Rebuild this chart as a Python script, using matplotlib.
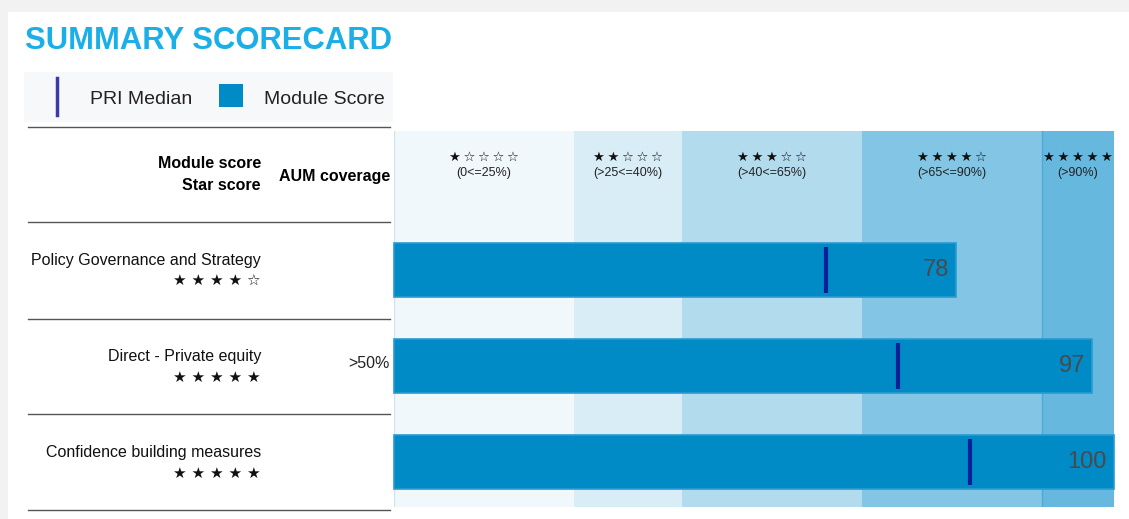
import matplotlib.pyplot as plt
from matplotlib.patches import Rectangle
from matplotlib.lines import Line2D
from matplotlib import transforms

plt.rcParams['font.family'] = ['Liberation Sans', 'DejaVu Sans']

# ---- data ----
modules = ["Policy Governance and Strategy", "Direct - Private equity", "Confidence building measures"]
module_scores = [78, 97, 100]
pri_medians = [60, 70, 80]
star_counts = [4, 5, 5]
aum_coverage = ["", ">50%", ""]

band_edges = [0, 25, 40, 65, 90, 100]
band_stars = [1, 2, 3, 4, 5]
band_labels = ["(0<=25%)", "(>25<=40%)", "(>40<=65%)", "(>65<=90%)", "(>90%)"]
band_colors = ["#f0f8fb", "#d9edf6", "#b3dbee", "#82c5e4", "#66b8de"]

BAR = "#008ac6"
MED = "#0d1f96"
TITLE = "#1aafe6"
W, H = 1129, 519


def stars(n, total=5, sep=" "):
    return sep.join(["\u2605"] * n + ["\u2606"] * (total - n))


fig = plt.figure(figsize=(W / 100, H / 100), dpi=100, facecolor="#f2f2f2")

# background / layout axes in pixel coordinates
bg = fig.add_axes([0, 0, 1, 1])
bg.set_xlim(0, W)
bg.set_ylim(H, 0)
bg.axis("off")
bg.add_patch(Rectangle((8, 12), W - 8, H - 12, facecolor="white", edgecolor="none"))

bg.text(25, 49, "SUMMARY SCORECARD", color=TITLE, fontsize=22.3, fontweight="bold",
        ha="left", va="baseline")

# legend box
bg.add_patch(Rectangle((24, 72), 369, 50, facecolor="#f7f8fa", edgecolor="none"))
bg.add_line(Line2D([57, 57], [78, 115], color="#3a3aa8", lw=2.5))
bg.text(90, 104, "PRI Median", fontsize=14, va="baseline", ha="left", color="#222222")
bg.add_patch(Rectangle((219, 84), 24, 23, facecolor=BAR, edgecolor="none"))
bg.text(264, 104, "Module Score", fontsize=14, va="baseline", ha="left", color="#222222")

# table lines
for y in [127, 222, 319, 414, 510]:
    bg.add_line(Line2D([28, 390], [y, y], color="#555555", lw=1.0))

# header
hdr = dict(fontsize=11.5, fontweight="bold", va="center")
bg.text(261, 164, "Module score", ha="right", **hdr)
bg.text(261, 185, "Star score", ha="right", **hdr)
bg.text(390, 176, "AUM coverage", ha="right", **hdr)

# data axes
x0, x1, ytop, ybot = 394, 1114, 131, 507
ax = fig.add_axes([x0 / W, (H - ybot) / H, (x1 - x0) / W, (ybot - ytop) / H])
ax.set_facecolor("none")
ax.set_xlim(0, 100)
row_h = 95.9
ax.set_ylim(2.5 - 3 / row_h, -0.5 - (222 - ytop) / row_h)
ax.axis("off")

for i in range(len(band_colors)):
    ax.axvspan(band_edges[i], band_edges[i + 1], facecolor=band_colors[i],
               edgecolor="none", zorder=0)
ax.axvline(band_edges[0], color="#d0e4ee", lw=1, zorder=1)
ax.axvline(band_edges[4], color="#4fa9d6", lw=1, zorder=1)

yrows = list(range(len(modules)))
ax.barh(yrows, module_scores, height=0.56, color=BAR, edgecolor="#2a9bd0", lw=1.2,
        zorder=2, clip_on=False)
for i, (s, m) in enumerate(zip(module_scores, pri_medians)):
    ax.plot([m, m], [i - 0.24, i + 0.24], color=MED, lw=3, zorder=3, solid_capstyle="butt")
    ax.annotate(str(s), (s, i), xytext=(-5, 0), textcoords="offset points",
                ha="right", va="center", fontsize=17, color="#4a4a4a", zorder=4)

# band header
bt = transforms.blended_transform_factory(ax.transData, bg.transData)
for i in range(len(band_labels)):
    cx = (band_edges[i] + band_edges[i + 1]) / 2
    ax.text(cx, 157, stars(band_stars[i], sep="\u2009"), transform=bt, ha="center",
            va="center", fontsize=9.5, color="#111111", family=["DejaVu Sans"])
    ax.text(cx, 173, band_labels[i], transform=bt, ha="center", va="center",
            fontsize=9, color="#222222",
            family=["Liberation Sans Narrow", "Liberation Sans"])

# row labels
for i, name in enumerate(modules):
    yc = 270.5 + i * 95.9
    bg.text(261, yc - 9.5, name, fontsize=11.5, ha="right", va="center", color="#111111")
    bg.text(261, yc + 11, stars(star_counts[i]), fontsize=11, ha="right", va="center",
            color="#111111", family=["DejaVu Sans"])
    if aum_coverage[i]:
        bg.text(390, yc - 3, aum_coverage[i], fontsize=11.5, ha="right", va="center",
                color="#222222")

fig.savefig("out.png", dpi=100, facecolor=fig.get_facecolor())
